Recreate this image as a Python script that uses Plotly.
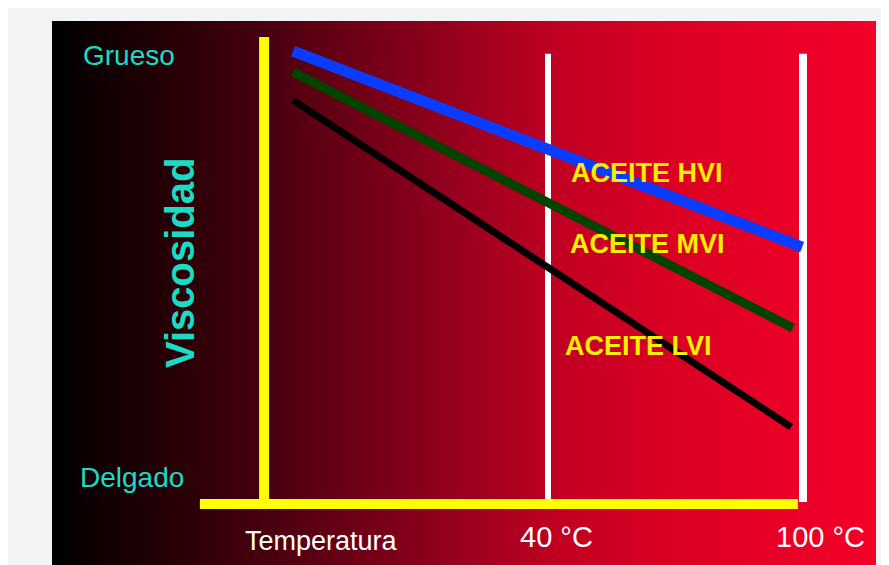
import plotly.graph_objects as go
import numpy as np

# ---- data (schematic: temperature in °C, viscosity in relative units) ----
oil_names = ["ACEITE HVI", "ACEITE MVI", "ACEITE LVI"]
oil_colors = ["#0a3cff", "#004400", "#000000"]
oil_widths = [11, 9, 7]
temp_start = [-20, -20, -20]
temp_end = [99.8, 97.6, 97.2]
visc_start = [97.0, 92.5, 86.5]
visc_end = [55.0, 37.7, 16.5]

label_x = [63.3, 63.3, 61.2]
label_y = [70.9, 55.7, 33.8]

ref_temps = [40, 100]
ref_tick_text = ["40 °C", "100 °C"]

# axis frame (schematic)
visc_axis_x = -26.8
visc_axis_top = 100
visc_axis_bottom = -1.07
temp_axis_y = 0
temp_axis_left = -41.9
temp_axis_right = 98.8
ref_line_top = 96.4
ref_line_bottom = 0.43

X_RANGE = [-76.71, 117.18]
Y_RANGE = [-13.06, 103.43]

fig = go.Figure()

# background gradient black -> red
n = 200
gx = np.linspace(X_RANGE[0], X_RANGE[1], n)
fig.add_trace(go.Heatmap(
    x=gx, y=[Y_RANGE[0], Y_RANGE[1]], z=[list(range(n)), list(range(n))],
    zsmooth="best", showscale=False, hoverinfo="skip",
    colorscale=[[0, "#000000"], [0.15, "#280006"], [0.26, "#48000e"],
                [0.4, "#780018"], [0.5, "#9a001e"], [0.62, "#c20022"],
                [0.75, "#da0024"], [0.88, "#e90026"], [1, "#f20028"]],
))

# white reference lines at 40 and 100 °C
for t, w in zip(ref_temps, [6, 8]):
    fig.add_trace(go.Scatter(x=[t, t], y=[ref_line_bottom, ref_line_top], mode="lines",
                             line=dict(color="#ffffff", width=w), hoverinfo="skip", showlegend=False))

# yellow axes
fig.add_trace(go.Scatter(x=[visc_axis_x, visc_axis_x], y=[visc_axis_bottom, visc_axis_top], mode="lines",
                         line=dict(color="#ffff00", width=10), hoverinfo="skip", showlegend=False))
fig.add_trace(go.Scatter(x=[temp_axis_left, temp_axis_right], y=[temp_axis_y, temp_axis_y], mode="lines",
                         line=dict(color="#ffff00", width=10), hoverinfo="skip", showlegend=False))

# oil lines
for i in range(3):
    fig.add_trace(go.Scatter(x=[temp_start[i], temp_end[i]], y=[visc_start[i], visc_end[i]],
                             mode="lines", line=dict(color=oil_colors[i], width=oil_widths[i]),
                             name=oil_names[i], showlegend=False))

F = "Liberation Sans, Arial, sans-serif"
ann = []
for i in range(3):
    ann.append(dict(x=label_x[i], y=label_y[i], text=oil_names[i], showarrow=False,
                    font=dict(family=F, size=27, color="#f5f000", weight="bold")))
ann.append(dict(x=-58.6, y=96.1, text="Grueso", showarrow=False,
                font=dict(family=F, size=28, color="#1adcc4")))
ann.append(dict(x=-57.9, y=5.6, text="Delgado", showarrow=False,
                font=dict(family=F, size=28, color="#1adcc4")))
ann.append(dict(x=-46.6, y=51.6, text="Viscosidad", showarrow=False, textangle=-90,
                font=dict(family=F, size=40, color="#1adcc4", weight="bold")))
ann.append(dict(x=-13.2, y=-7.9, text="Temperatura", showarrow=False,
                font=dict(family=F, size=27, color="#ffffff")))
for t, lbl, xx in zip(ref_temps, ref_tick_text, [42.1, 104.2]):
    ann.append(dict(x=xx, y=-7.07, text=lbl, showarrow=False,
                    font=dict(family=F, size=29, color="#ffffff")))

# page body has an 8px margin: figure is offset by (8, 8)
fig.update_layout(
    width=881, height=557,
    margin=dict(l=44, r=13, t=13, b=0, pad=0),
    paper_bgcolor="#f1f3f5", plot_bgcolor="#000000",
    xaxis=dict(range=X_RANGE, visible=False, fixedrange=True),
    yaxis=dict(range=Y_RANGE, visible=False, fixedrange=True),
    annotations=ann,
)

fig.write_html("out.html")
